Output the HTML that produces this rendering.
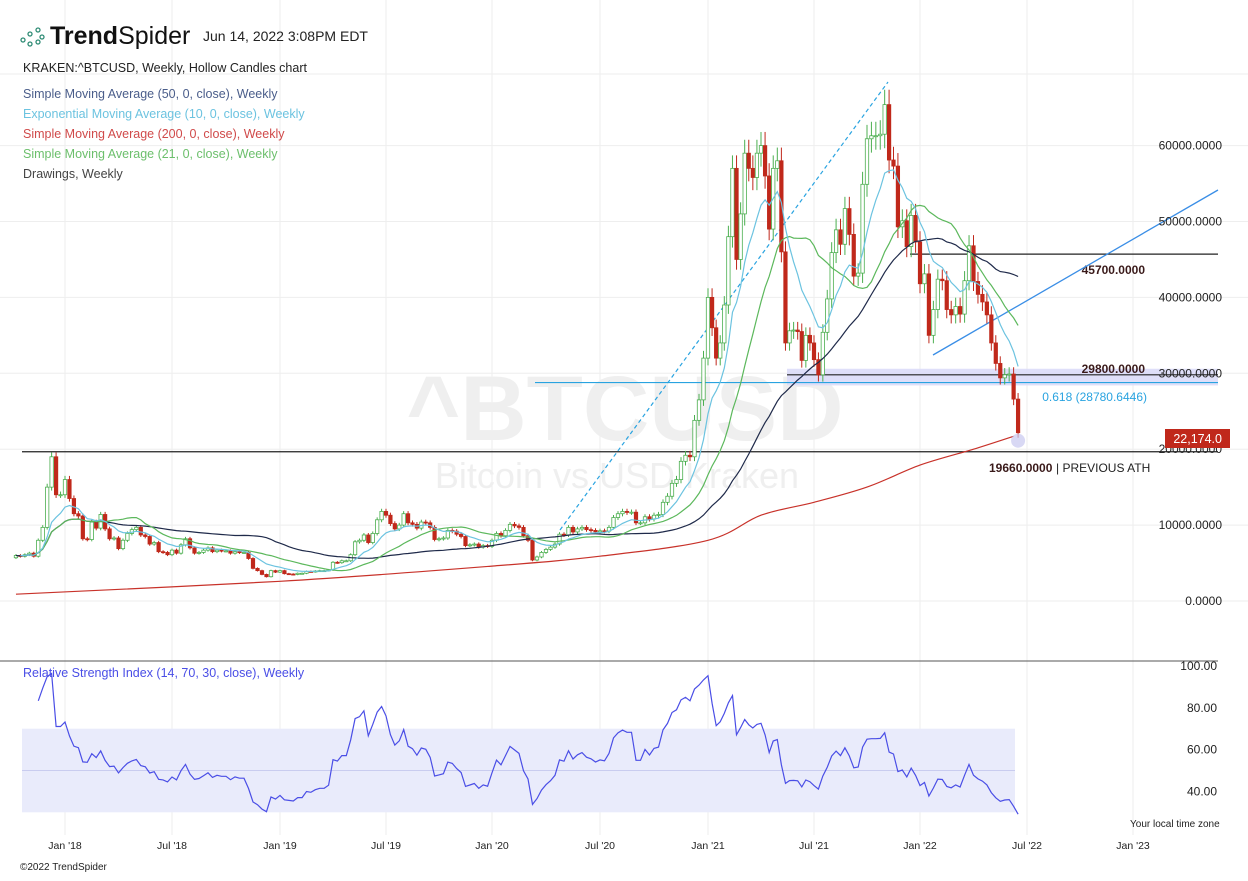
<!DOCTYPE html>
<html><head><meta charset="utf-8">
<style>
body{margin:0;background:#fff;font-family:"Liberation Sans",sans-serif;}
svg text{font-family:"Liberation Sans",sans-serif;}
</style></head>
<body>
<svg id="c" width="1248" height="876" xmlns="http://www.w3.org/2000/svg">
<rect width="1248" height="876" fill="#fff"/>
<g id="grid"></g>
<g>
<text x="625" y="440" font-size="92" font-weight="bold" fill="#efefef" text-anchor="middle">^BTCUSD</text>
<text x="617" y="488" font-size="36" fill="#efefef" text-anchor="middle">Bitcoin vs USD Kraken</text>
</g>
<g>
<circle cx="23" cy="40" r="2" fill="none" stroke="#2e8b74" stroke-width="1.3"/>
<circle cx="30" cy="34" r="2" fill="none" stroke="#2e8b74" stroke-width="1.3"/>
<circle cx="38" cy="30" r="2" fill="none" stroke="#2e8b74" stroke-width="1.3"/>
<circle cx="30" cy="44" r="2" fill="none" stroke="#2e8b74" stroke-width="1.3"/>
<circle cx="38" cy="42" r="2" fill="none" stroke="#2e8b74" stroke-width="1.3"/>
<circle cx="42" cy="37" r="2" fill="none" stroke="#2e8b74" stroke-width="1.3"/>
</g>
<text x="50" y="44" font-size="25" fill="#111"><tspan font-weight="bold">Trend</tspan>Spider</text>
<text x="203" y="41" font-size="14" fill="#222">Jun 14, 2022 3:08PM EDT</text>
<text x="23" y="72" font-size="12.5" fill="#222">KRAKEN:^BTCUSD, Weekly, Hollow Candles chart</text>
<text x="23" y="98" font-size="12.5" fill="#4a5d8a">Simple Moving Average (50, 0, close), Weekly</text>
<text x="23" y="118" font-size="12.5" fill="#6cc3e0">Exponential Moving Average (10, 0, close), Weekly</text>
<text x="23" y="138" font-size="12.5" fill="#d04a4a">Simple Moving Average (200, 0, close), Weekly</text>
<text x="23" y="158" font-size="12.5" fill="#6cbf6c">Simple Moving Average (21, 0, close), Weekly</text>
<text x="23" y="178" font-size="12.5" fill="#444">Drawings, Weekly</text>
<g id="draw"></g>
<g id="plot"></g>
<g id="axes"></g>
<text x="1130" y="827" font-size="10" fill="#222">Your local time zone</text>
<text x="20" y="870" font-size="10" fill="#222">©2022 TrendSpider</text>
</svg>
<script>
const closes=[6000,5900,6100,6300,5900,8000,9700,15000,19000,14000,14000,
16000,13500,11500,11200,8200,8100,10400,9600,11400,9500,8200,8300,6900,8000,8900,9400,9700,8700,8500,7500,7700,6500,6400,6100,6700,6300,7400,8200,7000,6300,6400,6700,7000,6500,6700,6600,6600,6300,6500,6400,6400,5600,4300,4000,3500,3200,4000,3800,
4000,3600,3550,3500,3650,3650,3900,3850,3950,4000,4000,4100,5100,5050,5300,5300,6100,7800,8000,8700,7700,8900,10700,11800,11300,10200,9500,10000,11500,10300,10100,9600,10400,10300,9700,8100,8200,8300,9300,9200,8800,8500,7300,7400,7500,7100,7300,7200,
8000,8900,8600,9300,10100,9900,9700,8600,8000,5400,5800,6400,6800,7100,7500,8800,8700,9700,9100,9500,9700,9400,9300,9100,9250,9200,9700,11000,11500,11800,11700,11700,10300,10300,11100,10800,11300,11400,13000,13800,15500,16000,18400,19200,19000,23800,26500,32000,
40000,36000,32000,34000,39000,48000,57000,45000,51000,59000,57000,55800,59000,60000,56000,49000,57000,58000,46000,34000,35600,35700,35500,31700,35000,34000,31800,29800,35400,39800,45900,48900,47000,51700,48300,42800,43200,54900,60900,61300,61300,61500,65400,58100,57300,49300,50100,46700,50800,47300,
41800,43100,35000,38400,42400,42200,38400,37700,38800,37800,42200,46800,42100,40400,39400,37700,34000,31300,29400,29800,29900,26600,22174];
const firstOpen=5700;
const sma200Idx=[0,59,107,131,155,168,181,193,205,217,226];
const sma200Val=[900,2600,4600,5900,8000,11300,13000,15000,17900,20000,21700];
const priceTicks=[0,10000,20000,30000,40000,50000,60000];
const rsiTicks=[40,60,80,100];
const timeLabels=["Jan '18","Jul '18","Jan '19","Jul '19","Jan '20","Jul '20","Jan '21","Jul '21","Jan '22","Jul '22","Jan '23"];
const timeIdx=[11,35,59,83,107,131,155,181,205,229,253];
const levels=[45700,29800,19660];
const fibLevel=28780.6446;

const NS="http://www.w3.org/2000/svg";
const tickPx=[65,172,280,386,492,600,708,814,920,1027,1133];
function xs(i){
 let k=0;while(k<timeIdx.length-2&&i>timeIdx[k+1])k++;
 return tickPx[k]+(i-timeIdx[k])*(tickPx[k+1]-tickPx[k])/(timeIdx[k+1]-timeIdx[k]);
}
const X0=xs(0),X1=xs(closes.length-1);
const py=v=>601-v*0.00759;
const ry=v=>666+(100-v)*2.09;
function mk(p,tag,at){const e=document.createElementNS(NS,tag);for(const k in at)e.setAttribute(k,at[k]);document.getElementById(p).appendChild(e);return e;}
function txt(p,x,y,s,at){const e=mk(p,'text',Object.assign({x:x,y:y},at));e.textContent=s;return e;}
priceTicks.forEach(v=>{const l=mk('grid','line',{x1:0,x2:1248,y1:py(v),y2:py(v),stroke:'#eeeeee'});

});
mk('grid','line',{x1:0,x2:1248,y1:74,y2:74,stroke:'#eeeeee'});
timeIdx.forEach(t=>{const l=mk('grid','line',{x1:xs(t),x2:xs(t),y1:0,y2:835,stroke:'#eeeeee'});

});
const band=mk('grid','rect',{x:22,y:ry(70),width:1015-22,height:ry(30)-ry(70),fill:'#e9ebfb'});


mk('grid','line',{x1:22,x2:1015,y1:ry(50),y2:ry(50),stroke:'#c9ccef'});
mk('grid','line',{x1:0,x2:1218,y1:661,y2:661,stroke:'#555'});
const bz=mk('draw','rect',{x:787,y:py(30600),width:1218-787,height:py(28400)-py(30600),fill:'#dcdcf8',opacity:0.9});


const fl=mk('draw','line',{x1:535,x2:1218,y1:py(fibLevel),y2:py(fibLevel),stroke:'#29a3e0','stroke-width':1.2});


txt('draw',1147,401,'0.618 (28780.6446)',{'font-size':12,fill:'#29a3e0','text-anchor':'end'});
const lvX=[910,787,22];
levels.forEach((v,i)=>{const l=mk('draw','line',{x1:lvX[i],x2:1218,y1:py(v),y2:py(v),stroke:'#222','stroke-width':1.2});

});
txt('draw',1145,274,'45700.0000',{'font-size':12,'font-weight':'bold',fill:'#3a1a1a','text-anchor':'end'});
txt('draw',1145,373,'29800.0000',{'font-size':12,'font-weight':'bold',fill:'#3a1a1a','text-anchor':'end'});
txt('draw',989,472,'19660.0000',{'font-size':12,'font-weight':'bold',fill:'#3a1a1a'});
txt('draw',1056,472,'| PREVIOUS ATH',{'font-size':12,fill:'#222'});
const dl=mk('draw','line',{x1:560,y1:530,x2:888,y2:82,stroke:'#29a3e0','stroke-dasharray':'4,3','stroke-width':1.2});


const tl=mk('draw','line',{x1:933,y1:355,x2:1218,y2:190,stroke:'#3a8ee6','stroke-width':1.3});


let prev=firstOpen;
closes.forEach((c,i)=>{
 const o=prev;prev=c;
 const hi=Math.max(o,c)*1.03,lo=Math.min(o,c)*0.97;
 const up=c>=o,col=up?'#4caf50':'#c0281b',x=xs(i);
 mk('plot','line',{x1:x,x2:x,y1:py(hi),y2:py(lo),stroke:col,'stroke-width':1});
 const r=mk('plot','rect',{x:x-1.7,y:py(Math.max(o,c)),width:3.4,height:Math.max(1,Math.abs(py(o)-py(c))),fill:up?'#fff':col,stroke:col,'stroke-width':0.8});
 
 
});
function path(pts,col,name){const d=pts.map((p,k)=>(k?'L':'M')+p[0].toFixed(1)+','+p[1].toFixed(1)).join('');
const e=mk('plot','path',{d:d,fill:'none',stroke:col,'stroke-width':1.2});

}
function sma(n){const out=[];for(let i=0;i<closes.length;i++){const s=closes.slice(Math.max(0,i-n+1),i+1);out.push([xs(i),py(s.reduce((a,b)=>a+b,0)/s.length)]);}return out;}
const ema=[];let e=closes[0];closes.forEach((c,i)=>{e=i?e+(c-e)*2/11:c;ema.push([xs(i),py(e)]);});
path(sma(50),'#1f2a4a','sma50-line');
path(sma(21).slice(3),'#5cb85c','sma21-line');
path(ema.slice(1),'#6cc3e0','ema10-line');
// smooth sma200 through sample points
(function(){const pts=sma200Idx.map((t,k)=>[xs(t),py(sma200Val[k])]);
let d='M'+pts[0][0]+','+pts[0][1];
for(let k=1;k<pts.length;k++){const p0=pts[Math.max(0,k-2)],p1=pts[k-1],p2=pts[k],p3=pts[Math.min(pts.length-1,k+1)];
d+='C'+(p1[0]+(p2[0]-p0[0])/6).toFixed(1)+','+(p1[1]+(p2[1]-p0[1])/6).toFixed(1)+' '+(p2[0]-(p3[0]-p1[0])/6).toFixed(1)+','+(p2[1]-(p3[1]-p1[1])/6).toFixed(1)+' '+p2[0].toFixed(1)+','+p2[1].toFixed(1);}
const el=mk('plot','path',{d:d,fill:'none',stroke:'#c8322a','stroke-width':1.2});

})();
const lastX=xs(closes.length-1);
mk('plot','circle',{cx:lastX,cy:py(closes[closes.length-1])+8,r:7,fill:'#c8c8f0',opacity:0.7});
let ag=0,al=0;const rp=[];
for(let i=1;i<closes.length;i++){const d=closes[i]-closes[i-1],g=Math.max(d,0),l=Math.max(-d,0);
 if(i<=10){ag+=g/10;al+=l/10;}else{ag=(ag*13+g)/14;al=(al*13+l)/14;}
 const r=al===0?100:100-100/(1+ag/al);if(i>=5)rp.push([xs(i),ry(Math.min(98,Math.max(20,r)))]);}
path(rp,'#4a4ee6','rsi-line');
txt('axes',23,677,'Relative Strength Index (14, 70, 30, close), Weekly',{'font-size':12.5,fill:'#4a4ee6'});
priceTicks.forEach(v=>{const t=txt('axes',1222,py(v)+4,v.toFixed(4),{'font-size':12,fill:'#222','text-anchor':'end'});

});
rsiTicks.forEach(v=>{const t=txt('axes',1217,ry(v)+4,v.toFixed(2),{'font-size':12,fill:'#222','text-anchor':'end'});

});
timeLabels.forEach((s,k)=>{const t=txt('axes',tickPx[k],849,s,{'font-size':10.5,fill:'#222','text-anchor':'middle'});

});
const tag=mk('axes','rect',{x:1165,y:429,width:65,height:19,fill:'#c0281b'});


txt('axes',1222,443,closes[closes.length-1].toLocaleString('en-US',{minimumFractionDigits:1}),{'font-size':12.5,fill:'#fff','text-anchor':'end'});
</script>
</body></html>
